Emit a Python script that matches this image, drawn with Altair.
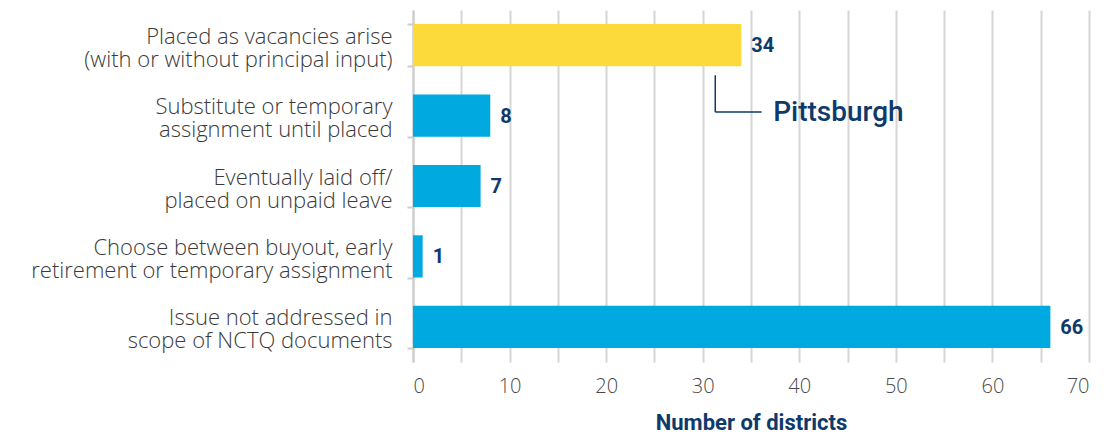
import altair as alt
import pandas as pd

categories = [
    "Placed as vacancies arise|(with or without principal input)",
    "Substitute or temporary|assignment until placed",
    "Eventually laid off/|placed on unpaid leave",
    "Choose between buyout, early|retirement or temporary assignment",
    "Issue not addressed in|scope of NCTQ documents",
]
values = [34, 8, 7, 1, 66]
highlight = [True, False, False, False, False]

YELLOW = "#FDDA3C"
BLUE = "#00A9E0"
NAVY = "#0D3A6B"
FONT = "Open Sans"

df = pd.DataFrame({"cat": categories, "value": values, "hl": highlight})

yscale = alt.Scale(domain=categories, paddingInner=0.4, paddingOuter=0.2)

y_enc = alt.Y(
    "cat:N",
    scale=yscale,
    axis=alt.Axis(
        title=None,
        labelExpr="split(datum.label, '|')",
        labelFont=FONT,
        labelFontSize=22,
        labelFontWeight=300,
        labelColor="#3a3a3a",
        labelLineHeight=23,
        labelPadding=15,
        labelLimit=500,
        labelOffset=-9,
        tickBand="extent",
        tickSize=6,
        tickColor="#cccccc",
        tickWidth=2,
        domainColor="#cccccc",
        domainWidth=2,
        grid=False,
    ),
)

x_enc = alt.X(
    "value:Q",
    scale=alt.Scale(domain=[0, 70], nice=False),
    axis=alt.Axis(
        title="Number of districts",
        values=list(range(0, 71, 5)),
        labelExpr="datum.value % 10 == 0 ? datum.label : ''",
        labelFont=FONT,
        labelFontSize=20,
        labelFontWeight=300,
        labelColor="#4a4a4a",
        labelPadding=14,
        domain=False,
        ticks=False,
        grid=True,
        gridColor="#d6d6d6",
        gridWidth=2,
        titleFont="Roboto",
        titleFontSize=22,
        titleFontWeight="bold",
        titleColor=NAVY,
        titlePadding=16,
    ),
)

bars = alt.Chart(df).mark_bar().encode(
    x=x_enc,
    y=y_enc,
    color=alt.condition("datum.hl", alt.value(YELLOW), alt.value(BLUE)),
)

labels = alt.Chart(df).mark_text(
    align="left", baseline="middle", dx=10, dy=1,
    font="Roboto", fontSize=20, fontWeight="bold", color=NAVY,
).encode(
    x="value:Q",
    y=alt.Y("cat:N", scale=yscale),
    text="value:Q",
)

# Pittsburgh annotation
ann_x = [31.3]
ann_x2 = [36.1]
ann_text_x = [37.3]
ann_df = pd.DataFrame({
    "c0": [categories[0]], "c1": [categories[1]],
    "x": ann_x, "x2": ann_x2, "tx": ann_text_x, "t": ["Pittsburgh"],
})

vline = alt.Chart(ann_df).mark_rule(
    color=NAVY, strokeWidth=1.5, yOffset=30, y2Offset=-3.5
).encode(
    x="x:Q",
    y=alt.Y("c0:N", scale=yscale),
    y2="c1:N",
)

hline = alt.Chart(ann_df).mark_rule(
    color=NAVY, strokeWidth=1.5, yOffset=-3.5
).encode(
    x="x:Q",
    x2="x2:Q",
    y=alt.Y("c1:N", scale=yscale),
)

ann_text = alt.Chart(ann_df).mark_text(
    align="left", baseline="middle", dy=-3,
    font="Roboto", fontSize=28, fontWeight=500, color=NAVY,
).encode(
    x="tx:Q",
    y=alt.Y("c1:N", scale=yscale),
    text="t:N",
)

chart = alt.layer(bars, labels, vline, hline, ann_text).properties(
    width=676,
    height=352,
    autosize=alt.AutoSizeParams(type="none"),
    padding={"left": 405, "top": 2, "right": 8, "bottom": 74},
    background="white",
).configure_view(stroke=None)

chart.save("out.html", embed_options={"renderer": "svg", "actions": False})
